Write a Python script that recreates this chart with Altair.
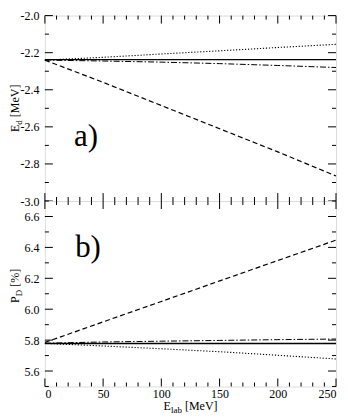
import altair as alt
import pandas as pd

# ---------------- data ----------------
E_LAB = [0, 50, 100, 150, 200, 250]
SERIES = ["solid", "dashed", "dotted", "dashdot"]

ED_SOLID = [-2.237, -2.237, -2.237, -2.237, -2.237, -2.237]
ED_DASHED = [-2.24, -2.36, -2.485, -2.61, -2.735, -2.865]
ED_DOTTED = [-2.24, -2.225, -2.207, -2.19, -2.172, -2.155]
ED_DASHDOT = [-2.24, -2.245, -2.251, -2.259, -2.269, -2.28]

PD_SOLID = [5.778, 5.778, 5.778, 5.778, 5.778, 5.778]
PD_DASHED = [5.785, 5.918, 6.05, 6.183, 6.315, 6.447]
PD_DOTTED = [5.779, 5.762, 5.744, 5.725, 5.702, 5.678]
PD_DASHDOT = [5.78, 5.788, 5.793, 5.798, 5.803, 5.807]

X_MAJOR = [0, 50, 100, 150, 200, 250]
X_MINOR = [10, 20, 30, 40, 60, 70, 80, 90, 110, 120, 130, 140,
           160, 170, 180, 190, 210, 220, 230, 240]
ED_MAJOR = [-3.0, -2.8, -2.6, -2.4, -2.2, -2.0]
ED_MINOR = [-2.9, -2.7, -2.5, -2.3, -2.1]
PD_MAJOR = [5.6, 5.8, 6.0, 6.2, 6.4, 6.6]
PD_MINOR = [5.5, 5.7, 5.9, 6.1, 6.3, 6.5, 6.7]

ED_DOMAIN = [-3.0, -2.0]
PD_DOMAIN = [5.5, 6.7]
X_DOMAIN = [0, 250]

LABEL_A = {"x": [25], "y": [-2.705], "t": ["a)"]}
LABEL_B = {"x": [26], "y": [6.34], "t": ["b)"]}

# ---------------- layout ----------------
W = 292
H = 186
FONT = "'Liberation Serif', 'Times New Roman', serif"
MAJ = 8
MIN = 4
X0 = 26  # title baseline distance left of plot


def long_df(series_lists):
    rows = []
    for name, vals in zip(SERIES, series_lists):
        for x, y in zip(E_LAB, vals):
            rows.append({"x": x, "y": y, "s": name})
    return pd.DataFrame(rows)


def panel(series_lists, y_domain, y_major, y_minor, label, title_parts,
          show_x, title_shift):
    xs = alt.Scale(domain=X_DOMAIN, nice=False, zero=False)
    ys = alt.Scale(domain=y_domain, nice=False, zero=False)
    if show_x:
        xaxis = alt.Axis(values=X_MAJOR, format="d", ticks=False, domain=False,
                         grid=False, labelPadding=2, title=None,
                         labelFont=FONT, labelFontSize=12, labelColor="black")
    else:
        xaxis = None
    yaxis = alt.Axis(values=y_major,
                     labelExpr="replace(format(datum.value, '.1f'), '\u2212', '-')",
                     ticks=False, domain=False, grid=False, labelPadding=6,
                     title=None, labelFont=FONT, labelFontSize=12,
                     labelColor="black")
    X = alt.X("x:Q", scale=xs, axis=xaxis)
    Y = alt.Y("y:Q", scale=ys, axis=yaxis)

    lines = alt.Chart(long_df(series_lists)).mark_line(color="black").encode(
        x=X, y=Y,
        strokeDash=alt.StrokeDash("s:N", scale=alt.Scale(
            domain=SERIES, range=[[1, 0], [5, 3], [1.2, 1.8], [6, 2, 1.5, 2]]),
            legend=None),
        strokeWidth=alt.StrokeWidth("s:N", scale=alt.Scale(
            domain=SERIES, range=[1.3, 1, 1, 1]), legend=None),
        detail="s:N",
    )

    layers = [lines]
    xmaj = pd.DataFrame({"x": X_MAJOR})
    xmin = pd.DataFrame({"x": X_MINOR})
    for df, ln in ((xmaj, MAJ), (xmin, MIN)):
        layers.append(alt.Chart(df).mark_rule(color="black", strokeWidth=1).encode(
            x=X, y=alt.value(H), y2=alt.value(H - ln)))
        layers.append(alt.Chart(df).mark_rule(color="black", strokeWidth=1).encode(
            x=X, y=alt.value(0), y2=alt.value(ln)))
    ymaj = pd.DataFrame({"y": y_major})
    ymin = pd.DataFrame({"y": y_minor})
    for df, ln in ((ymaj, MAJ), (ymin, MIN)):
        layers.append(alt.Chart(df).mark_rule(color="black", strokeWidth=1).encode(
            y=Y, x=alt.value(0), x2=alt.value(ln)))
        layers.append(alt.Chart(df).mark_rule(color="black", strokeWidth=1).encode(
            y=Y, x=alt.value(W - ln), x2=alt.value(W)))

    layers.append(alt.Chart(pd.DataFrame(label)).mark_text(
        font=FONT, fontSize=31, align="left", baseline="alphabetic",
        color="black").encode(x=X, y=Y, text="t:N"))

    # rotated y title: main, subscript, unit
    main, sub, unit, total = title_parts
    one = pd.DataFrame({"k": [0]})
    y0 = H / 2 + total / 2 + title_shift
    wm = 7.3 if main == "E" else 6.7
    ws = 4.6 if sub == "d" else 6.6
    layers.append(alt.Chart(one).mark_text(
        text=main, font=FONT, fontSize=12, angle=270, align="left",
        baseline="alphabetic", color="black").encode(
        x=alt.value(-X0), y=alt.value(y0)))
    layers.append(alt.Chart(one).mark_text(
        text=sub, font=FONT, fontSize=9, angle=270, align="left",
        baseline="alphabetic", color="black").encode(
        x=alt.value(-X0 + 3), y=alt.value(y0 - wm)))
    layers.append(alt.Chart(one).mark_text(
        text=unit, font=FONT, fontSize=12, angle=270, align="left",
        baseline="alphabetic", color="black").encode(
        x=alt.value(-X0), y=alt.value(y0 - wm - ws - 3)))

    if show_x:
        start = W / 2 - 27
        layers.append(alt.Chart(one).mark_text(
            text="E", font=FONT, fontSize=12, align="left",
            baseline="alphabetic", color="black").encode(
            x=alt.value(start), y=alt.value(H + 24)))
        layers.append(alt.Chart(one).mark_text(
            text="lab", font=FONT, fontSize=9, align="left",
            baseline="alphabetic", color="black").encode(
            x=alt.value(start + 7.5), y=alt.value(H + 26.5)))
        layers.append(alt.Chart(one).mark_text(
            text="[MeV]", font=FONT, fontSize=12, align="left",
            baseline="alphabetic", color="black").encode(
            x=alt.value(start + 21.5), y=alt.value(H + 24)))

    return alt.layer(*layers).properties(width=W, height=H)


top = panel([ED_SOLID, ED_DASHED, ED_DOTTED, ED_DASHDOT], ED_DOMAIN,
            ED_MAJOR, ED_MINOR, LABEL_A, ("E", "d", "[MeV]", 47.5), False, 0)
bottom = panel([PD_SOLID, PD_DASHED, PD_DOTTED, PD_DASHDOT], PD_DOMAIN,
               PD_MAJOR, PD_MINOR, LABEL_B, ("P", "D", "[%]", 34.3), True, -8)

chart = alt.vconcat(top, bottom, spacing=0, bounds="flush").properties(
    padding={"left": 0, "top": 0, "right": 0, "bottom": 0}
).configure_view(stroke="black", strokeWidth=1.2).configure(background="white")

chart.save("out.html", embed_options={"renderer": "svg", "actions": False})
